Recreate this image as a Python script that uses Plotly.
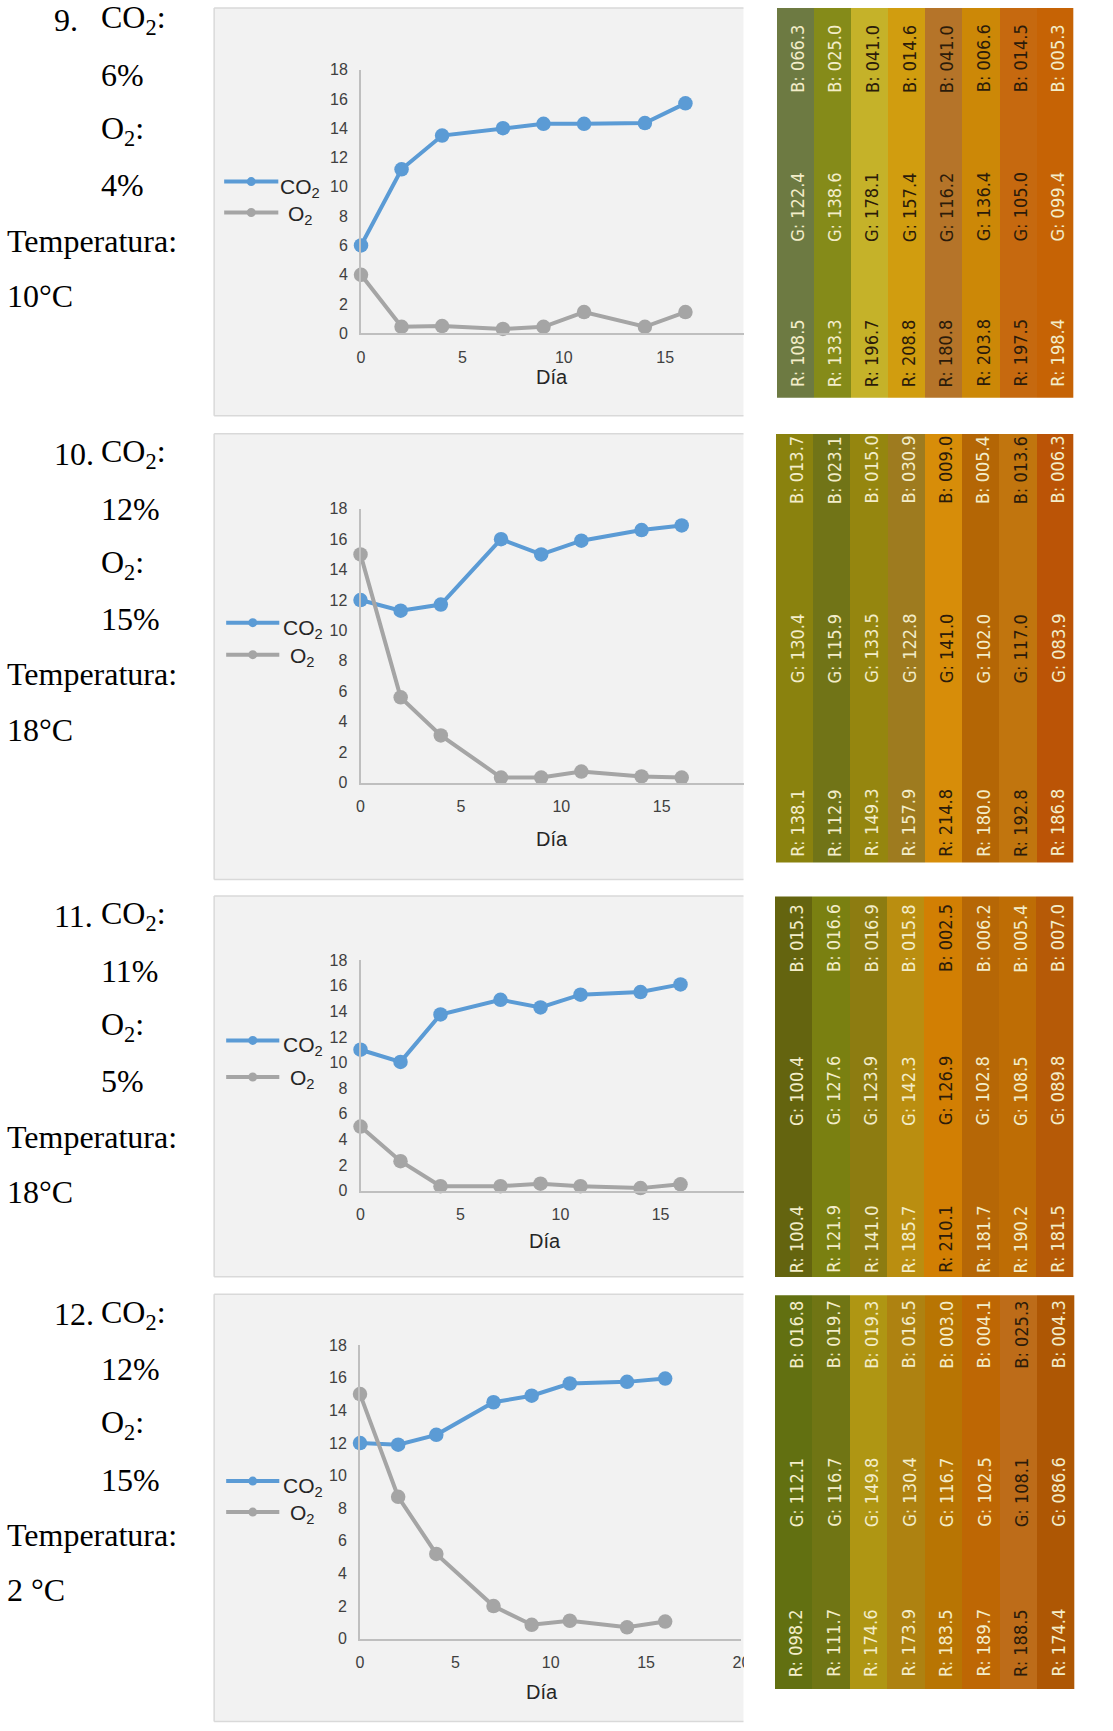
import plotly.graph_objects as go

# figure size; the page adds an 8 px body margin and the captured page is
# fitted back into the window, so positions below are given in window pixels
W, H = 1113, 1731
BODY = 8
KX = W / (W + 2 * BODY)
KY = H / (H + 2 * BODY)
NUDGE_X = 2.5

# ---------------- data ----------------
dias = [0, 2, 4, 7, 9, 11, 14, 16]

co2_9 = [6.0, 11.2, 13.5, 14.0, 14.3, 14.3, 14.35, 15.7]
o2_9 = [4.0, 0.45, 0.5, 0.3, 0.45, 1.45, 0.45, 1.45]
co2_10 = [12.0, 11.3, 11.7, 16.0, 15.0, 15.9, 16.6, 16.9]
o2_10 = [15.0, 5.6, 3.1, 0.33, 0.33, 0.72, 0.4, 0.33]
co2_11 = [11.0, 10.05, 13.75, 14.9, 14.3, 15.3, 15.5, 16.1]
o2_11 = [5.0, 2.3, 0.35, 0.35, 0.55, 0.35, 0.2, 0.5]
co2_12 = [12.0, 11.9, 12.5, 14.5, 14.9, 15.65, 15.75, 15.95]
o2_12 = [15.0, 8.7, 5.2, 2.0, 0.85, 1.1, 0.7, 1.05]

ensayos = ["9.", "10.", "11.", "12."]
co2_inicial = ["6%", "12%", "11%", "12%"]
o2_inicial = ["4%", "15%", "5%", "15%"]
temperaturas = ["10°C", "18°C", "18°C", "2 °C"]

x_ticks = [0, 5, 10, 15, 20]
y_ticks = [0, 2, 4, 6, 8, 10, 12, 14, 16, 18]

# colour readings (RGB) of each sample strip
rojo_9 = [108.5, 133.3, 196.7, 208.8, 180.8, 203.8, 197.5, 198.4]
verde_9 = [122.4, 138.6, 178.1, 157.4, 116.2, 136.4, 105.0, 99.4]
azul_9 = [66.3, 25.0, 41.0, 14.6, 41.0, 6.6, 14.5, 5.3]

rojo_10 = [138.1, 112.9, 149.3, 157.9, 214.8, 180.0, 192.8, 186.8]
verde_10 = [130.4, 115.9, 133.5, 122.8, 141.0, 102.0, 117.0, 83.9]
azul_10 = [13.7, 23.1, 15.0, 30.9, 9.0, 5.4, 13.6, 6.3]

rojo_11 = [100.4, 121.9, 141.0, 185.7, 210.1, 181.7, 190.2, 181.5]
verde_11 = [100.4, 127.6, 123.9, 142.3, 126.9, 102.8, 108.5, 89.8]
azul_11 = [15.3, 16.6, 16.9, 15.8, 2.5, 6.2, 5.4, 7.0]

rojo_12 = [98.2, 111.7, 174.6, 173.9, 183.5, 189.7, 188.5, 174.4]
verde_12 = [112.1, 116.7, 149.8, 130.4, 116.7, 102.5, 108.1, 86.6]
azul_12 = [16.8, 19.7, 19.3, 16.5, 3.0, 4.1, 25.3, 4.3]

# label tone on each strip: "c" light, "o" dark
tono_9 = ["c", "c", "o", "o", "o", "o", "o", "c"]
tono_10 = ["c", "c", "c", "c", "o", "c", "o", "c"]
tono_11 = ["c", "c", "c", "c", "o", "c", "c", "c"]
tono_12 = ["c", "c", "c", "c", "c", "c", "o", "c"]

# ---------------- layout geometry (window pixels) ----------------
panels = [
    dict(co2=co2_9, o2=o2_9, rgb=(rojo_9, verde_9, azul_9), tono=tono_9,
         box=(215, 2, 743, 416), x0=361.5, x20=766, y0=333.5, y18=69.6,
         leg=(225, 279, 181.6, 212.6, 301), dia=(552, 377.5), txt=19.9,
         sw=(776, 0, 1072, 398), lab=(0.115, 0.49, 0.87)),
    dict(co2=co2_10, o2=o2_10, rgb=(rojo_10, verde_10, azul_10), tono=tono_10,
         box=(215, 434, 743, 880), x0=361, x20=761.5, y0=783, y18=509,
         leg=(227, 280, 623, 655, 303.5), dia=(552, 839), txt=454,
         sw=(775, 434, 1072, 863), lab=(0.093, 0.50, 0.916)),
    dict(co2=co2_11, o2=o2_11, rgb=(rojo_11, verde_11, azul_11), tono=tono_11,
         box=(215, 896.6, 743, 1277.5), x0=361, x20=760, y0=1191.4, y18=960.6,
         leg=(227, 280, 1041, 1077.6, 303.5), dia=(545.5, 1242), txt=916.5,
         sw=(774, 897, 1072, 1278), lab=(0.10, 0.49, 0.89)),
    dict(co2=co2_12, o2=o2_12, rgb=(rojo_12, verde_12, azul_12), tono=tono_12,
         box=(215, 1295, 743, 1722.5), x0=360.5, x20=741, y0=1639.7, y18=1346,
         leg=(227, 280, 1482, 1513, 303.5), dia=(542, 1692.7), txt=1315,
         sw=(774, 1296, 1073, 1690), lab=(0.117, 0.50, 0.90)),
]

BLUE = "#5B9BD5"
GREY = "#A5A5A5"
AXIS = "#BFBFBF"
TICK = "#404040"
LIGHT_TXT = "#F3EDC9"
DARK_TXT = "#2B1B0A"
SERIF = "Liberation Serif, Times New Roman, serif"
SANS = "Liberation Sans, Arial, sans-serif"
NARROW = "Liberation Sans Narrow, Arial Narrow, DejaVu Sans Condensed, Roboto, sans-serif"


def clamp(v):
    return min(1.0, max(0.0, v))


def fx(x):
    return clamp(((x + NUDGE_X) / KX - BODY) / W)


def fy(y):
    return clamp(1 - (y / KY - BODY) / H)


fig = go.Figure()
shapes = []
annotations = []
layout_axes = {}

for i, p in enumerate(panels):
    n = i + 1
    xa, ya = f"x{n}", f"y{n}"
    # chart background box (right side runs into the page gutter)
    bx0, by0, bx1, by1 = p["box"]
    shapes.append(dict(type="rect", xref="paper", yref="paper",
                       x0=fx(bx0), x1=fx(bx1), y0=fy(by1), y1=fy(by0),
                       fillcolor="#F2F2F2", line=dict(width=0), layer="below"))
    for (ax0, ay0, ax1, ay1) in [(bx0, by0, bx1, by0), (bx0, by0, bx0, by1),
                                 (bx0, by1, bx1, by1)]:
        shapes.append(dict(type="line", xref="paper", yref="paper",
                           x0=fx(ax0), x1=fx(ax1), y0=fy(ay0), y1=fy(ay1),
                           line=dict(color="#D9D9D9", width=1.5), layer="below"))

    # CO2 / O2 curves
    for vals, col in [(p["co2"], BLUE), (p["o2"], GREY)]:
        fig.add_trace(go.Scatter(
            x=dias, y=vals, mode="lines+markers", xaxis=xa, yaxis=ya,
            line=dict(color=col, width=4), marker=dict(color=col, size=14.5),
            cliponaxis=False, showlegend=False, hoverinfo="x+y"))

    axis_common = dict(showgrid=False, zeroline=False, showline=True,
                       linecolor=AXIS, linewidth=2, ticks="outside", ticklen=8,
                       tickcolor="rgba(0,0,0,0)",
                       tickfont=dict(family=SANS, size=16, color=TICK))
    layout_axes[f"xaxis{n}"] = dict(
        domain=[fx(p["x0"]), fx(p["x20"])], range=[0, 20], anchor=ya,
        tickvals=x_ticks, **axis_common)
    layout_axes[f"yaxis{n}"] = dict(
        domain=[fy(p["y0"]), fy(p["y18"])], range=[0, 18], anchor=xa,
        tickvals=y_ticks, **axis_common)

    # axis title
    annotations.append(dict(xref="paper", yref="paper", x=fx(p["dia"][0]),
                            y=fy(p["dia"][1]), text="Día", showarrow=False,
                            xanchor="center", yanchor="middle",
                            font=dict(family=SANS, size=20, color="#262626")))

    # legend block on the left of each chart
    lx0, lx1, ly_co2, ly_o2, tx = p["leg"]
    for ly, col, name, dy in [(ly_co2, BLUE, "CO<sub>2</sub>", 6),
                              (ly_o2, GREY, "O<sub>2</sub>", 2)]:
        shapes.append(dict(type="line", xref="paper", yref="paper",
                           x0=fx(lx0), x1=fx(lx1), y0=fy(ly), y1=fy(ly),
                           line=dict(color=col, width=4), layer="above"))
        cx = (lx0 + lx1) / 2
        shapes.append(dict(type="circle", xref="paper", yref="paper",
                           x0=fx(cx - 4.5), x1=fx(cx + 4.5), y0=fy(ly + 4.5),
                           y1=fy(ly - 4.5), fillcolor=col, line=dict(width=0),
                           layer="above"))
        annotations.append(dict(xref="paper", yref="paper", x=fx(tx),
                                y=fy(ly + dy), text=name, showarrow=False,
                                xanchor="center", yanchor="middle",
                                font=dict(family=SANS, size=21, color="#262626")))

    # white gutter between chart and colour strip
    shapes.append(dict(type="rect", xref="paper", yref="paper",
                       x0=fx(743.5), x1=fx(p["sw"][0] - 0.5),
                       y0=fy(by1 + 4), y1=fy(by0 + 2), fillcolor="white",
                       line=dict(width=0), layer="above"))

    # left-hand description
    ty = p["txt"]
    step = 55.2
    rows = [
        (53, ty, ensayos[i]), (100, ty, "CO<sub>2</sub>:"),
        (100, ty + step, co2_inicial[i]), (100, ty + 2 * step, "O<sub>2</sub>:"),
        (100, ty + 3 * step, o2_inicial[i]), (6, ty + 4 * step, "Temperatura:"),
        (6, ty + 5 * step, temperaturas[i]),
    ]
    for (x, y, t) in rows:
        annotations.append(dict(xref="paper", yref="paper", x=fx(x), y=fy(y),
                                text=t, showarrow=False, xanchor="left",
                                yanchor="middle",
                                font=dict(family=SERIF, size=32, color="black")))

    # colour strips with their RGB readings
    sn = n + 4
    sxa, sya = f"x{sn}", f"y{sn}"
    r, g, b = p["rgb"]
    colors = [f"rgb({rr:.1f},{gg:.1f},{bb:.1f})" for rr, gg, bb in zip(r, g, b)]
    idx = list(range(len(r)))
    fig.add_trace(go.Bar(x=idx, y=[1] * len(r), width=1, xaxis=sxa, yaxis=sya,
                         marker=dict(color=colors, line=dict(width=0)),
                         showlegend=False, hoverinfo="skip"))
    sx0, sy0, sx1, sy1 = p["sw"]
    layout_axes[f"xaxis{sn}"] = dict(domain=[fx(sx0), fx(sx1)],
                                     range=[-0.5, len(r) - 0.5], visible=False,
                                     anchor=sya)
    layout_axes[f"yaxis{sn}"] = dict(domain=[fy(sy1), fy(sy0)],
                                     range=[0, 1], visible=False, anchor=sxa)
    fr, fg, fb = p["lab"]
    for k in idx:
        col = LIGHT_TXT if p["tono"][k] == "c" else DARK_TXT
        for val, pre, yy in [(r[k], "R", fr), (g[k], "G", fg), (b[k], "B", fb)]:
            annotations.append(dict(xref=sxa, yref=sya, x=k + 0.08, y=yy,
                                    text=f"{pre}: {val:05.1f}", textangle=-90,
                                    showarrow=False, xanchor="center",
                                    yanchor="middle",
                                    font=dict(family=NARROW, size=18, color=col)))

fig.update_layout(
    width=W, height=H, margin=dict(l=0, r=0, t=0, b=0),
    paper_bgcolor="white", plot_bgcolor="rgba(0,0,0,0)",
    bargap=0, showlegend=False, shapes=shapes, annotations=annotations,
    **layout_axes,
)

fig.write_html("out.html")
